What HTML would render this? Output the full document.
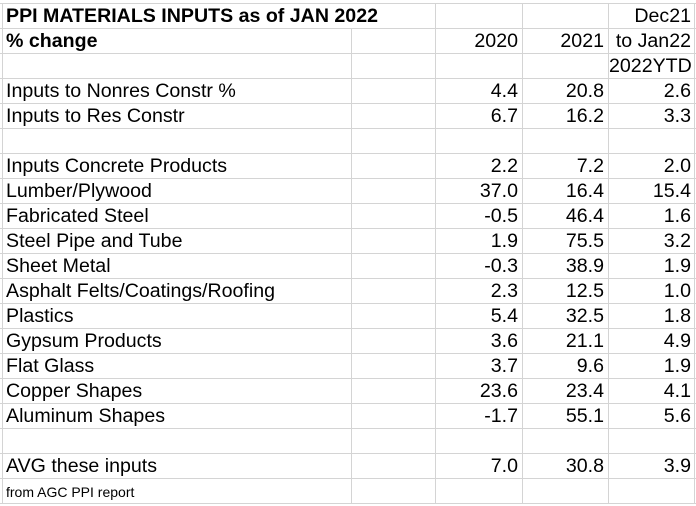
<!DOCTYPE html>
<html><head><style>
body{margin:0;width:696px;height:506px;background:#fff;position:relative;overflow:hidden;font-family:"Liberation Sans",Arial,sans-serif;font-size:19.6px;color:#000}
.h{position:absolute;left:0;width:696px;height:1px;background:#d4d4d4}
.v{position:absolute;width:1px;background:#d4d4d4}
.t{position:absolute;height:25px;line-height:26px;white-space:nowrap}
.r{text-align:right}
</style></head><body>
<div id="g"></div>
<script>
var g=document.getElementById('g'),s='';
for(var i=0;i<=20;i++){s+='<div class="h" style="top:'+(3+i*25)+'px"></div>';}
s+='<div class="v" style="left:2px;top:3px;height:500px"></div>';
s+='<div class="v" style="left:351px;top:28px;height:475px"></div>';
[435,522,608,694].forEach(function(x){s+='<div class="v" style="left:'+x+'px;top:3px;height:500px"></div>';});
var rows=[
["<b>PPI MATERIALS INPUTS as of JAN 2022</b>","","","Dec21"],
["<b>% change</b>","2020","2021","to Jan22"],
["","","","2022YTD"],
["Inputs to Nonres Constr %","4.4","20.8","2.6"],
["Inputs to Res Constr","6.7","16.2","3.3"],
["","","",""],
["Inputs Concrete Products","2.2","7.2","2.0"],
["Lumber/Plywood","37.0","16.4","15.4"],
["Fabricated Steel","-0.5","46.4","1.6"],
["Steel Pipe and Tube","1.9","75.5","3.2"],
["Sheet Metal","-0.3","38.9","1.9"],
["Asphalt Felts/Coatings/Roofing","2.3","12.5","1.0"],
["Plastics","5.4","32.5","1.8"],
["Gypsum Products","3.6","21.1","4.9"],
["Flat Glass","3.7","9.6","1.9"],
["Copper Shapes","23.6","23.4","4.1"],
["Aluminum Shapes","-1.7","55.1","5.6"],
["","","",""],
["AVG these inputs","7.0","30.8","3.9"],
["<span style='font-size:14px'>from AGC PPI report</span>","","",""]];
rows.forEach(function(r,i){var y=3+i*25;
s+='<div class="t" style="left:6px;top:'+y+'px">'+r[0]+'</div>';
s+='<div class="t r" style="left:436px;width:82px;top:'+y+'px">'+r[1]+'</div>';
s+='<div class="t r" style="left:523px;width:81px;top:'+y+'px">'+r[2]+'</div>';
s+='<div class="t r" style="left:609px;width:82px;top:'+y+'px">'+r[3]+'</div>';});
g.innerHTML=s;
</script>
</body></html>
